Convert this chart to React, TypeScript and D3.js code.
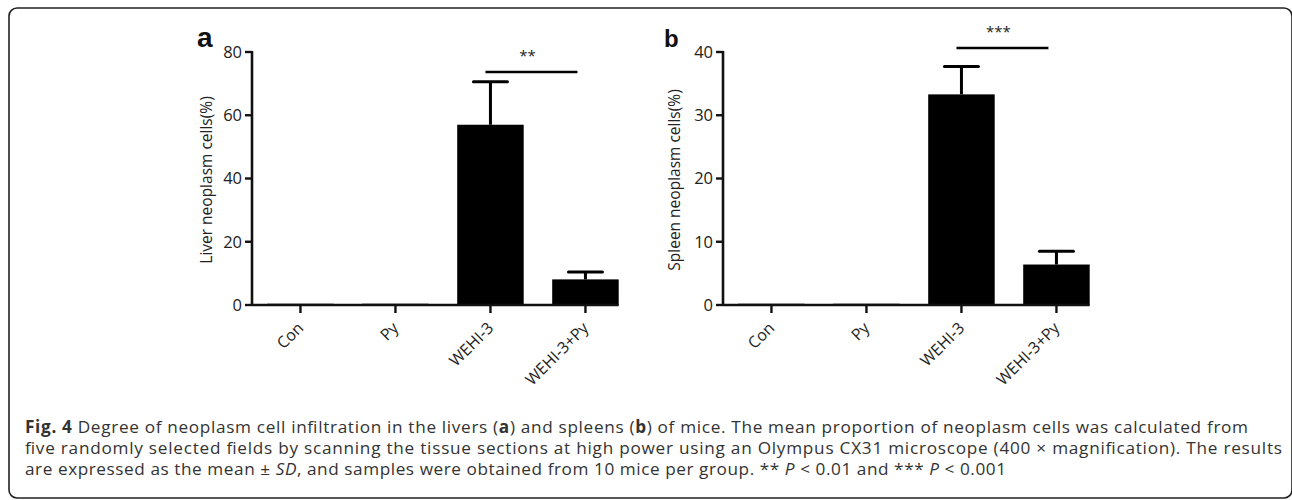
import React from "react";
import * as d3 from "d3";

const categories = ["Con", "Py", "WEHI-3", "WEHI-3+Py"];
const liverMeans = [0.4, 0.4, 57.0, 8.1];
const liverSD = [0, 0, 13.6, 2.3];
const liverTicks = [0, 20, 40, 60, 80];
const spleenMeans = [0.2, 0.2, 33.3, 6.4];
const spleenSD = [0, 0, 4.4, 2.1];
const spleenTicks = [0, 10, 20, 30, 40];

const FONT = "'Open Sans', 'Noto Sans', sans-serif";
const INK = "#111";

type PanelProps = {
  letter: string;
  letterSize: number;
  letterX: number;
  axisX: number;
  yLabel: string;
  yLabelX: number;
  means: number[];
  sds: number[];
  ticks: number[];
  yMax: number;
  sigFrom: string;
  sigTo: string;
  sigY: number;
  sigText: string;
};

function Panel(p: PanelProps) {
  const y = d3.scaleLinear().domain([0, p.yMax]).range([305, 52]);
  const x = d3
    .scaleBand<string>()
    .domain(categories)
    .range([p.axisX, p.axisX + 95 * (4 - 0.3 + 2 * 0.16)])
    .paddingInner(0.3)
    .paddingOuter(0.16);
  const bw = x.bandwidth();
  const xEnd = (x(categories[categories.length - 1]) as number) + bw;
  const cx = (c: string) => (x(c) as number) + bw / 2;
  const sx1 = cx(p.sigFrom) - 5;
  const sx2 = cx(p.sigTo) - 8;
  return (
    <g>
      <text x={p.letterX} y={47} fontFamily="Arial, 'Liberation Sans', sans-serif" fontWeight="bold" fontSize={p.letterSize} fill={INK}>
        {p.letter}
      </text>
      {categories.map((c, i) => (
        <rect key={c} x={x(c)} y={y(p.means[i])} width={bw} height={y(0) - y(p.means[i])} fill="#000" />
      ))}
      {categories.map((c, i) =>
        p.sds[i] > 0 ? (
          <g key={"e" + c} stroke="#000" strokeWidth={3}>
            <line x1={cx(c)} x2={cx(c)} y1={y(p.means[i])} y2={y(p.means[i] + p.sds[i])} />
            <line x1={cx(c) - 17} x2={cx(c) + 17} y1={y(p.means[i] + p.sds[i])} y2={y(p.means[i] + p.sds[i])} strokeLinecap="round" />
          </g>
        ) : null
      )}
      <line x1={p.axisX} x2={p.axisX} y1={y(p.yMax) - 1} y2={y(0) + 1} stroke={INK} strokeWidth={2.6} />
      {p.ticks.map((t) => (
        <g key={t}>
          <line x1={p.axisX - 7} x2={p.axisX} y1={y(t)} y2={y(t)} stroke={INK} strokeWidth={2.4} />
          <text x={p.axisX - 10} y={y(t)} dy="0.36em" textAnchor="end" fontFamily={FONT} fontSize={16.5} fill="#222">
            {t}
          </text>
        </g>
      ))}
      <line x1={p.axisX} x2={xEnd} y1={y(0)} y2={y(0)} stroke={INK} strokeWidth={2.6} />
      {categories.map((c) => (
        <g key={"x" + c}>
          <line x1={cx(c)} x2={cx(c)} y1={y(0)} y2={y(0) + 8} stroke={INK} strokeWidth={2.4} />
          <text
            transform={`translate(${cx(c) + 4},${y(0) + 24}) rotate(-45)`}
            textAnchor="end"
            fontFamily={FONT}
            fontSize={16}
            fill="#222"
          >
            {c}
          </text>
        </g>
      ))}
      <text
        transform={`translate(${p.yLabelX},180) rotate(-90)`}
        textAnchor="middle"
        fontFamily={FONT}
        fontSize={15.5}
        fill="#222"
      >
        {p.yLabel}
      </text>
      <line x1={sx1} x2={sx2} y1={p.sigY} y2={p.sigY} stroke="#000" strokeWidth={2.6} />
      <text x={(sx1 + sx2) / 2 - 4} y={p.sigY - 11} textAnchor="middle" fontFamily={FONT} fontSize={15} fill="#222">
        {p.sigText}
      </text>
    </g>
  );
}

export default function App() {
  return (
    <svg width={1292} height={500} style={{ position: "absolute", left: 0, top: 0, background: "#fff" }}>
      <rect x={9} y={8} width={1283} height={490} rx={8} ry={8} fill="#fff" stroke="#222" strokeWidth={1.6} />
      <Panel
        letter="a"
        letterSize={28}
        letterX={197}
        axisX={252}
        yLabel="Liver neoplasm cells(%)"
        yLabelX={212}
        means={liverMeans}
        sds={liverSD}
        ticks={liverTicks}
        yMax={80}
        sigFrom="WEHI-3"
        sigTo="WEHI-3+Py"
        sigY={72}
        sigText="**"
      />
      <Panel
        letter="b"
        letterSize={24}
        letterX={664}
        axisX={723}
        yLabel="Spleen neoplasm cells(%)"
        yLabelX={680}
        means={spleenMeans}
        sds={spleenSD}
        ticks={spleenTicks}
        yMax={40}
        sigFrom="WEHI-3"
        sigTo="WEHI-3+Py"
        sigY={48}
        sigText="***"
      />
      <g fontFamily={FONT} fontSize={17.2} fill="#333">
        <text x={25} y={433} textLength={1223} lengthAdjust="spacing">
          <tspan fontWeight="bold">Fig. 4</tspan> Degree of neoplasm cell infiltration in the livers (<tspan fontWeight="bold">a</tspan>) and spleens (<tspan fontWeight="bold">b</tspan>) of mice. The mean proportion of neoplasm cells was calculated from
        </text>
        <text x={25} y={454} textLength={1257} lengthAdjust="spacing">
          five randomly selected fields by scanning the tissue sections at high power using an Olympus CX31 microscope (400 × magnification). The results
        </text>
        <text x={25} y={475} textLength={981} lengthAdjust="spacing">
          are expressed as the mean ± <tspan fontStyle="italic">SD</tspan>, and samples were obtained from 10 mice per group. ** <tspan fontStyle="italic">P</tspan> &lt; 0.01 and *** <tspan fontStyle="italic">P</tspan> &lt; 0.001
        </text>
      </g>
    </svg>
  );
}
